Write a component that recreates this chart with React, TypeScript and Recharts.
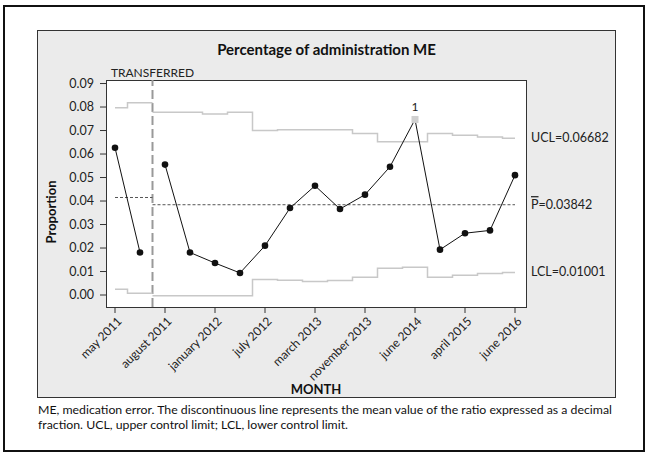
import React from 'react';
import { LineChart, Line, XAxis, YAxis, ReferenceLine } from 'recharts';

// ---- data ----
const tickLabels = ['may 2011', 'august 2011', 'january 2012', 'july 2012', 'march 2013', 'november 2013', 'june 2014', 'april 2015', 'june 2016'];
const tickIndex = [0, 2, 4, 6, 8, 10, 12, 14, 16];
const proportion = [0.0627, 0.0181, 0.0555, 0.0181, 0.0136, 0.0094, 0.0210, 0.0370, 0.0465, 0.0366, 0.0427, 0.0546, 0.0747, 0.0193, 0.0263, 0.0275, 0.0510];
const ucl = [0.0797, 0.0818, 0.0778, 0.0778, 0.0770, 0.0778, 0.0700, 0.0703, 0.0703, 0.0703, 0.0687, 0.0652, 0.0652, 0.0687, 0.0680, 0.0672, 0.0667];
const lcl = [0.0025, 0.0008, -0.0003, -0.0003, -0.0003, -0.0003, 0.0066, 0.0063, 0.0058, 0.0062, 0.0076, 0.0114, 0.0118, 0.0076, 0.0084, 0.0092, 0.0096];
const phaseStart = [0, 2];
const phaseEnd = [1, 16];
const phaseMean = [0.0415, 0.03842];
const flagged = [12];
const yTicks = [0, 0.01, 0.02, 0.03, 0.04, 0.05, 0.06, 0.07, 0.08, 0.09];
const limitNames = ['UCL', 'P', 'LCL'];
const limitValues = [0.06682, 0.03842, 0.01001];

const FONT = 'Lato, "DejaVu Sans", sans-serif';
const LAST = proportion.length - 1;

const startX = (s: number) => (s === 0 ? s : s - 0.5);
const endX = (e: number) => (e === LAST ? e : e + 0.5);

function stepSeries(vals: number[], s: number, e: number) {
  const pts = [{ x: startX(s), y: vals[s] }];
  for (let i = s + 1; i <= e; i++) pts.push({ x: i - 0.5, y: vals[i] });
  pts.push({ x: endX(e), y: vals[e] });
  return pts;
}
function meanSeries(m: number, s: number, e: number) {
  return [{ x: startX(s), y: m }, { x: endX(e), y: m }];
}
function pointSeries(s: number, e: number) {
  const pts: { x: number; y: number; flag: boolean }[] = [];
  for (let i = s; i <= e; i++) pts.push({ x: i, y: proportion[i], flag: flagged.includes(i) });
  return pts;
}

const XTick = (props: any) => {
  const { x, y, payload } = props;
  const idx = tickIndex.indexOf(payload.value);
  return (
    <g transform={`translate(${x + 1.5},${y + 1})`}>
      <text x={0} y={0} dy="0.71em" textAnchor="end" transform="rotate(-45)" fill="#222" fontSize={12} fontFamily={FONT}>
        {tickLabels[idx]}
      </text>
    </g>
  );
};

const Dot = (props: any) => {
  const { cx, cy, payload, index } = props;
  if (payload.flag) {
    return (
      <g key={`d${index}`}>
        <rect x={cx - 3.5} y={cy - 3.5} width={7} height={7} fill="#d0d0d0" />
        <text x={cx} y={cy - 8} textAnchor="middle" fontSize={12} fill="#222" fontFamily={FONT}>1</text>
      </g>
    );
  }
  return <circle key={`d${index}`} cx={cx} cy={cy} r={3.3} fill="#111" />;
};

const makeLimitLabel = (name: string, value: number) => (props: any) => {
  const vb = props.viewBox || {};
  const x = (vb.x || 0) + (vb.width || 0) + 5;
  const y = vb.y || 0;
  return (
    <text x={x} y={y} dy="0.35em" fill="#222" fontSize={12.5} fontFamily={FONT}>
      <tspan style={name === 'P' ? { textDecoration: 'overline' } : undefined}>{name}</tspan>
      <tspan>={value.toFixed(5)}</tspan>
    </text>
  );
};

export default function App() {
  const transferAt = phaseStart[1] - 0.5;
  return (
    <div style={{ position: 'absolute', left: 0, top: 0, width: 650, height: 459, background: '#fff', fontFamily: FONT }}>
      <div style={{ position: 'absolute', left: 3, top: 5, width: 638, height: 443, border: '2px solid #111' }} />
      <div style={{ position: 'absolute', left: 37, top: 30, width: 577, height: 366, border: '1.5px solid #333', background: '#ebebeb' }} />
      <div style={{ position: 'absolute', left: 106, top: 80, width: 419, height: 226, border: '1px solid #333', background: '#fff' }} />
      <div style={{ position: 'absolute', left: 37, top: 40, width: 579, textAlign: 'center', fontWeight: 700, fontSize: 15, color: '#111' }}>
        Percentage of administration ME
      </div>
      <div style={{ position: 'absolute', left: 0, top: 0, width: 650, height: 459 }}>
        <LineChart width={650} height={459} margin={{ top: 80, right: 124, left: 46, bottom: 122 }}>
          <XAxis dataKey="x" type="number" domain={[-0.36, 16.44]} ticks={tickIndex} interval={0} allowDataOverflow
            tick={<XTick />} tickSize={6} tickLine={{ stroke: '#333' }} axisLine={false} height={30} />
          <YAxis type="number" domain={[-0.0051, 0.0915]} ticks={yTicks} interval={0} allowDataOverflow width={60}
            tickFormatter={(v: number) => v.toFixed(2)} tickSize={6} tickMargin={6} tickLine={{ stroke: '#333' }} axisLine={false}
            tick={{ fill: '#222', fontSize: 12.5, fontFamily: FONT }} />
          {limitValues.map((v, i) => (
            <ReferenceLine key={`lab${i}`} y={v} strokeOpacity={0} label={makeLimitLabel(limitNames[i], v)} />
          ))}
          <ReferenceLine x={transferAt} stroke="#999" strokeWidth={2} strokeDasharray="9 4"
            label={{ value: 'TRANSFERRED', position: 'top', offset: 3, fill: '#222', fontSize: 12, fontFamily: FONT }} />
          {phaseStart.map((s, p) => (
            <Line key={`u${p}`} data={stepSeries(ucl, s, phaseEnd[p])} dataKey="y" type="stepAfter" stroke="#c8c8c8" strokeWidth={1.5} dot={false} isAnimationActive={false} />
          ))}
          {phaseStart.map((s, p) => (
            <Line key={`l${p}`} data={stepSeries(lcl, s, phaseEnd[p])} dataKey="y" type="stepAfter" stroke="#c8c8c8" strokeWidth={1.5} dot={false} isAnimationActive={false} />
          ))}
          {phaseStart.map((s, p) => (
            <Line key={`m${p}`} data={meanSeries(phaseMean[p], s, phaseEnd[p])} dataKey="y" type="linear" stroke="#555" strokeWidth={1} strokeDasharray="3 2" dot={false} isAnimationActive={false} />
          ))}
          {phaseStart.map((s, p) => (
            <Line key={`p${p}`} data={pointSeries(s, phaseEnd[p])} dataKey="y" type="linear" stroke="#111" strokeWidth={1} dot={<Dot />} activeDot={false} isAnimationActive={false} />
          ))}
        </LineChart>
      </div>
      <div style={{ position: 'absolute', left: 51, top: 212, transform: 'translate(-50%, -50%) rotate(-90deg)', fontWeight: 700, fontSize: 13, color: '#111', whiteSpace: 'nowrap' }}>
        Proportion
      </div>
      <div style={{ position: 'absolute', left: 106, top: 381, width: 420, textAlign: 'center', fontWeight: 700, fontSize: 13, color: '#111' }}>
        MONTH
      </div>
      <div style={{ position: 'absolute', left: 38, top: 403, width: 590, fontSize: 12.3, lineHeight: '14.5px', color: '#111' }}>
        ME, medication error. The discontinuous line represents the mean value of the ratio expressed as a decimal fraction. UCL, upper control limit; LCL, lower control limit.
      </div>
    </div>
  );
}
